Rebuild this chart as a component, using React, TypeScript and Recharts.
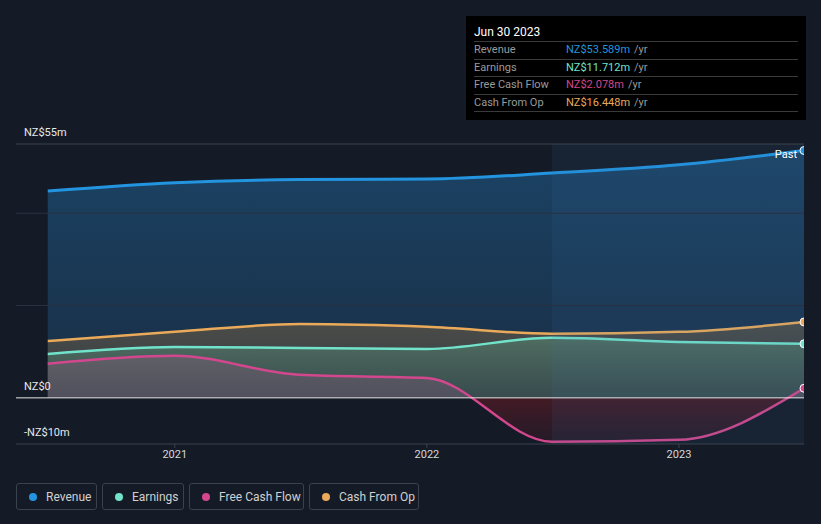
import {
  Area,
  ComposedChart,
  ReferenceArea,
  ReferenceLine,
  XAxis,
  YAxis,
} from "recharts";

// half-year points, as decimal years (Jun 30 / Dec 31)
const periods = [2020.496, 2021.0, 2021.496, 2022.0, 2022.496, 2023.0, 2023.496];
const revenue = [44.8, 46.6, 47.3, 47.4, 48.7, 50.5, 53.589];
const earnings = [9.5, 11.0, 10.8, 10.6, 13.0, 12.1, 11.712];
const freeCashFlow = [7.4, 9.1, 5.0, 4.3, -9.5, -9.1, 2.078];
const cashFromOp = [12.3, 14.3, 16.0, 15.4, 13.9, 14.3, 16.448];

const yearTicks = [2021, 2022, 2023];
const gridValues = [20, 40];
const valueLabels = [
  { v: 55, text: "NZ$55m" },
  { v: 0, text: "NZ$0" },
  { v: -10, text: "-NZ$10m" },
];

const colors = {
  revenue: "#2394df",
  earnings: "#72e3cb",
  fcf: "#d2478d",
  cfo: "#eaaa5a",
};

const tooltipRows = [
  { label: "Revenue", value: "NZ$53.589m", color: colors.revenue },
  { label: "Earnings", value: "NZ$11.712m", color: colors.earnings },
  { label: "Free Cash Flow", value: "NZ$2.078m", color: colors.fcf },
  { label: "Cash From Op", value: "NZ$16.448m", color: colors.cfo },
];

const legendItems = [
  { label: "Revenue", color: colors.revenue, width: 81 },
  { label: "Earnings", color: colors.earnings, width: 82 },
  { label: "Free Cash Flow", color: colors.fcf, width: 115 },
  { label: "Cash From Op", color: colors.cfo, width: 110 },
];

const data = periods.map((t, i) => ({
  t,
  revenue: revenue[i],
  earnings: earnings[i],
  fcf: freeCashFlow[i],
  cfo: cashFromOp[i],
}));

const lastIndex = data.length - 1;

const endDot = (color: string) => (props: any) => {
  if (props.index !== lastIndex) return <g key={props.index} />;
  return (
    <circle
      key={props.index}
      cx={props.cx}
      cy={props.cy}
      r={4}
      fill={color}
      stroke="#ffffff"
      strokeWidth={1}
    />
  );
};

const valueLabel = (text: string) => (props: any) => {
  const vb = props.viewBox || {};
  return (
    <text x={24} y={(vb.y ?? 0) - 8} fill="#e8e8e8" fontSize={11} textAnchor="start">
      {text}
    </text>
  );
};

const font = "Roboto, 'Open Sans', sans-serif";

export default function App() {
  return (
    <div
      style={{
        position: "absolute",
        left: 0,
        top: 0,
        width: 821,
        height: 524,
        background: "#151b26",
        fontFamily: font,
        overflow: "hidden",
      }}
    >
      <ComposedChart
        width={821}
        height={524}
        data={data}
        margin={{ top: 144, right: 17, left: 16, bottom: 50 }}
        style={{ fontFamily: font }}
      >
        <defs>
          <linearGradient id="revFill" x1="0" y1="0" x2="0" y2="1">
            <stop offset="0%" stopColor="#1c4a70" stopOpacity={0.85} />
            <stop offset="100%" stopColor="#1b3550" stopOpacity={0.75} />
          </linearGradient>
          <linearGradient id="cfoFill" x1="0" y1="0" x2="0" y2="1">
            <stop offset="0%" stopColor="#8a6a40" stopOpacity={0.45} />
            <stop offset="100%" stopColor="#6a5a40" stopOpacity={0.3} />
          </linearGradient>
          <linearGradient id="earnFill" x1="0" y1="0" x2="0" y2="1">
            <stop offset="0%" stopColor="#5a9a80" stopOpacity={0.45} />
            <stop offset="100%" stopColor="#4a7a6a" stopOpacity={0.25} />
          </linearGradient>
          <linearGradient
            id="fcfFill"
            gradientUnits="userSpaceOnUse"
            x1="0"
            y1="144"
            x2="0"
            y2="444"
          >
            <stop offset="0%" stopColor="#b06080" stopOpacity={0.45} />
            <stop offset="84.6%" stopColor="#8a5a80" stopOpacity={0.3} />
            <stop offset="84.6%" stopColor="#6a1a24" stopOpacity={0.55} />
            <stop offset="100%" stopColor="#3a1a2a" stopOpacity={0.4} />
          </linearGradient>
        </defs>
        <XAxis
          dataKey="t"
          type="number"
          domain={[2020.37, 2023.496]}
          ticks={yearTicks}
          tickFormatter={(v) => String(v)}
          height={30}
          tick={{ fill: "#d8d8d8", fontSize: 11 }}
          tickSize={4}
          tickLine={{ stroke: "#3c424d" }}
          axisLine={{ stroke: "#3c424d" }}
          allowDataOverflow
        />
        <YAxis type="number" domain={[-10, 55]} hide allowDataOverflow />
        <ReferenceLine y={55} stroke="#3c424d" />
        {gridValues.map((g) => (
          <ReferenceLine key={g} y={g} stroke="#2a3140" />
        ))}
        <Area
          type="monotone"
          dataKey="revenue"
          stroke={colors.revenue}
          strokeWidth={3}
          fill="url(#revFill)"
          fillOpacity={1}
          baseValue={0}
          dot={endDot(colors.revenue)}
          activeDot={false}
          isAnimationActive={false}
        />
        <Area
          type="monotone"
          dataKey="cfo"
          stroke={colors.cfo}
          strokeWidth={2.5}
          fill="url(#cfoFill)"
          fillOpacity={1}
          baseValue={0}
          dot={endDot(colors.cfo)}
          activeDot={false}
          isAnimationActive={false}
        />
        <Area
          type="monotone"
          dataKey="earnings"
          stroke={colors.earnings}
          strokeWidth={2.5}
          fill="url(#earnFill)"
          fillOpacity={1}
          baseValue={0}
          dot={endDot(colors.earnings)}
          activeDot={false}
          isAnimationActive={false}
        />
        <Area
          type="monotone"
          dataKey="fcf"
          stroke={colors.fcf}
          strokeWidth={2.5}
          fill="url(#fcfFill)"
          fillOpacity={1}
          baseValue={0}
          dot={endDot(colors.fcf)}
          activeDot={false}
          isAnimationActive={false}
        />
        <ReferenceArea
          x1={2022.496}
          x2={2023.496}
          y1={-10}
          y2={55}
          fill="#3a7ab0"
          fillOpacity={0.1}
          stroke="none"
        />
        <ReferenceLine y={0} stroke="#e6e6e6" strokeWidth={1} />
        {valueLabels.map((l) => (
          <ReferenceLine
            key={`lbl${l.v}`}
            y={l.v}
            stroke="none"
            label={valueLabel(l.text)}
          />
        ))}
      </ComposedChart>

      <div
        style={{
          position: "absolute",
          left: 760,
          top: 148,
          width: 37,
          textAlign: "right",
          color: "#ffffff",
          fontSize: 11,
        }}
      >
        Past
      </div>

      <div
        style={{
          position: "absolute",
          left: 466,
          top: 16,
          width: 340,
          height: 104,
          background: "#000000",
          boxSizing: "border-box",
          padding: "8px 8px 0 8px",
        }}
      >
        <div
          style={{
            color: "#ffffff",
            fontSize: 12,
            height: 17,
            lineHeight: "17px",
            borderBottom: "1px solid #3a3a3a",
          }}
        >
          Jun 30 2023
        </div>
        {tooltipRows.map((r) => (
          <div
            key={r.label}
            style={{
              display: "flex",
              height: 16.5,
              lineHeight: "16.5px",
              fontSize: 11,
              borderBottom: "1px solid #3a3a3a",
            }}
          >
            <span style={{ color: "#9a9a9a", width: 92 }}>{r.label}</span>
            <span style={{ color: r.color }}>{r.value}</span>
            <span style={{ color: "#9a9a9a", marginLeft: 4 }}>/yr</span>
          </div>
        ))}
      </div>

      <div
        style={{
          position: "absolute",
          left: 16,
          top: 483,
          display: "flex",
          gap: 5,
        }}
      >
        {legendItems.map((item) => (
          <div
            key={item.label}
            style={{
              width: item.width,
              height: 27,
              boxSizing: "border-box",
              border: "1px solid #3c424d",
              borderRadius: 3,
              display: "flex",
              alignItems: "center",
              paddingLeft: 12,
              color: "#d0d0d0",
              fontSize: 12,
            }}
          >
            <span
              style={{
                width: 8,
                height: 8,
                borderRadius: "50%",
                background: item.color,
                marginRight: 9,
              }}
            />
            {item.label}
          </div>
        ))}
      </div>
    </div>
  );
}
